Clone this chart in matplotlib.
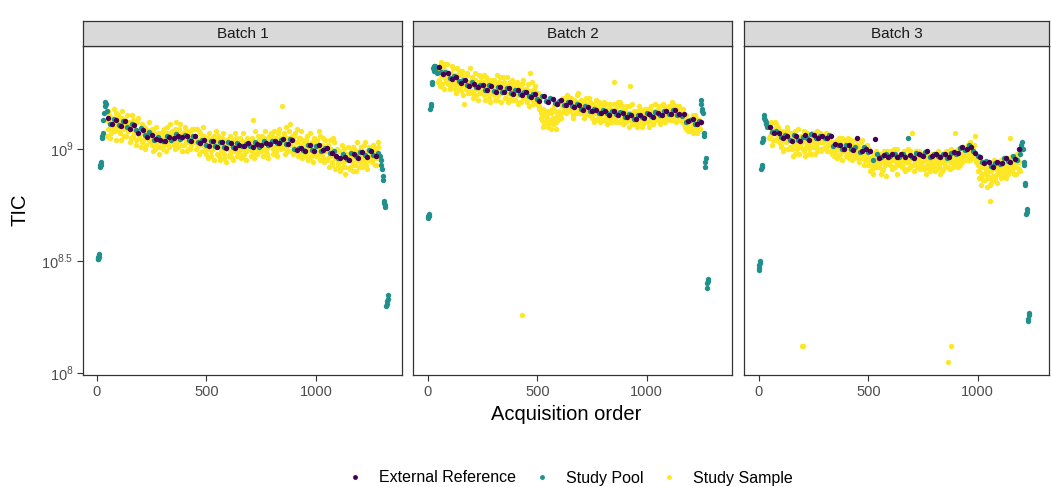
import matplotlib.pyplot as plt
from matplotlib.lines import Line2D
from matplotlib.ticker import NullLocator

plt.rcParams['font.family'] = ['Liberation Sans', 'DejaVu Sans']
plt.rcParams['mathtext.fontset'] = 'custom'
plt.rcParams['mathtext.rm'] = 'Liberation Sans'

groups = ["External Reference", "Study Pool", "Study Sample"]
colors = ["#440154", "#21908C", "#FDE725"]
batches = ["Batch 1", "Batch 2", "Batch 3"]

# all TIC values below are log10(TIC)

# ---------------- Batch 1 ----------------
b1_ref_order = list(range(50, 1271, 20))
b1_ref_log = [
    9.138, 9.112, 9.130, 9.104, 9.124, 9.090, 9.108, 9.072, 9.086, 9.052,
    9.062, 9.045, 9.040, 9.036, 9.052, 9.048, 9.058, 9.055, 9.060, 9.036,
    9.058, 9.028, 9.042, 9.014, 9.036, 9.008, 9.030, 9.004, 9.028, 9.006,
    9.018, 9.015, 9.026, 9.010, 9.022, 9.018, 9.028, 9.022, 9.034, 9.028,
    9.046, 9.024, 9.040, 8.996, 9.004, 8.992, 9.020, 8.990, 9.018, 8.994,
    9.004, 8.982, 8.970, 8.960, 8.966, 8.950, 8.978, 8.960, 8.988, 8.966,
    8.990, 8.968]

b1_pool_order = ([4, 6, 8, 10, 12, 14, 16, 18, 20, 24, 26, 28, 30, 33, 36, 39, 42, 45]
                 + list(range(60, 1281, 20))
                 + [1290, 1293, 1296, 1299, 1302, 1305, 1308, 1310, 1312, 1314,
                    1318, 1320, 1322, 1324, 1326])
b1_pool_log = ([8.51, 8.52, 8.51, 8.53, 8.52, 8.92, 8.93, 8.93, 8.94, 9.05, 9.06, 9.07,
                9.13, 9.16, 9.19, 9.21, 9.20, 9.17]
               + [9.112, 9.132, 9.108, 9.126, 9.100, 9.110, 9.084, 9.096, 9.064, 9.074,
                  9.042, 9.054, 9.034, 9.060, 9.040, 9.068, 9.046, 9.064, 9.040, 9.058,
                  9.032, 9.040, 9.020, 9.038, 9.012, 9.032, 9.010, 9.030, 9.008, 9.028,
                  9.014, 9.024, 9.012, 9.030, 9.010, 9.038, 9.018, 9.036, 9.026, 9.040,
                  9.024, 9.044, 9.002, 9.006, 8.996, 9.016, 8.994, 9.014, 8.992, 9.004,
                  8.984, 8.990, 8.960, 8.976, 8.954, 8.984, 8.970, 8.988, 8.974, 8.994,
                  8.972, 8.984]
               + [8.97, 8.95, 8.93, 8.91, 8.88, 8.86, 8.77, 8.76, 8.74, 8.75,
                  8.30, 8.31, 8.32, 8.33, 8.35])

b1_sample_order = list(range(45, 1286, 5)) + list(range(47, 1283, 5))
b1_sample_log_a = [
    9.13, 9.09, 9.15, 9.11, 9.07, 9.14, 9.10, 9.12, 9.08, 9.16,
    9.10, 9.13, 9.07, 9.11, 9.14, 9.09, 9.06, 9.12, 9.10, 9.15,
    9.08, 9.11, 9.05, 9.10, 9.13, 9.07, 9.09, 9.04, 9.12, 9.08,
    9.06, 9.09, 9.03, 9.07, 9.10, 9.05, 9.02, 9.08, 9.06, 9.04,
    9.05, 9.02, 9.08, 9.04, 9.00, 9.06, 9.03, 9.07, 9.01, 9.05,
    9.04, 9.08, 9.02, 9.06, 9.03, 9.10, 9.05, 9.01, 9.07, 9.04,
    9.06, 9.02, 9.09, 9.05, 9.03, 9.07, 9.04, 9.11, 9.06, 9.02,
    9.05, 9.08, 9.03, 9.06, 9.00, 9.04, 9.07, 9.02, 9.09, 9.05,
    9.03, 9.06, 9.01, 9.04, 9.08, 9.02, 9.05, 8.99, 9.03, 9.06,
    9.02, 8.98, 9.05, 9.01, 9.04, 8.97, 9.03, 9.00, 9.06, 9.02,
    9.01, 9.04, 8.97, 9.02, 8.99, 9.05, 9.00, 8.96, 9.03, 9.01,
    9.00, 9.03, 8.98, 9.02, 8.96, 9.04, 9.01, 8.99, 9.05, 9.00,
    9.02, 8.98, 9.04, 9.00, 8.97, 9.03, 9.01, 8.99, 9.05, 9.02,
    9.01, 9.04, 8.99, 9.13, 9.02, 8.98, 9.03, 9.00, 9.06, 9.01,
    9.03, 8.99, 9.02, 9.05, 9.00, 9.04, 8.98, 9.01, 9.06, 9.02,
    9.02, 9.06, 9.00, 9.04, 8.99, 9.03, 9.07, 9.01, 9.05, 9.02,
    9.19, 9.03, 9.07, 9.00, 9.05, 9.02, 9.08, 9.03, 8.99, 9.06,
    9.04, 9.01, 9.07, 8.99, 9.03, 9.00, 9.05, 8.98, 9.02, 9.04,
    9.01, 8.97, 9.04, 8.99, 9.02, 8.96, 9.00, 9.03, 8.98, 9.05,
    9.00, 9.03, 8.97, 9.01, 9.06, 8.98, 9.02, 8.96, 9.00, 9.04,
    8.99, 8.95, 9.02, 8.97, 9.00, 8.94, 8.98, 9.03, 8.96, 8.99,
    8.96, 8.93, 8.99, 8.91, 8.97, 8.94, 9.00, 8.92, 8.96, 8.98,
    8.95, 8.98, 8.92, 8.96, 9.01, 8.93, 8.97, 8.90, 8.95, 8.99,
    8.98, 8.94, 9.00, 8.96, 9.02, 8.97, 8.93, 8.99, 8.96, 9.01,
    8.97, 9.00, 8.95, 8.98, 8.93, 8.99, 8.96, 9.01, 8.97]
b1_sample_log_b = [
    9.06, 9.17, 9.12, 9.05, 9.14, 9.09, 9.18, 9.11, 9.04, 9.13,
    9.15, 9.08, 9.12, 9.04, 9.17, 9.10, 9.13, 9.06, 9.11, 9.08,
    9.12, 9.03, 9.09, 9.15, 9.06, 9.11, 9.02, 9.08, 9.14, 9.05,
    9.08, 9.01, 9.11, 9.04, 9.07, 9.00, 9.09, 9.05, 9.12, 9.03,
    9.03, 9.09, 8.99, 9.06, 9.02, 9.10, 9.04, 8.98, 9.07, 9.03,
    9.06, 9.00, 9.09, 9.03, 8.99, 9.07, 9.02, 9.11, 9.04, 9.08,
    9.03, 9.08, 9.00, 9.12, 9.04, 9.01, 9.09, 9.05, 8.99, 9.07,
    9.02, 9.10, 9.05, 8.99, 9.08, 9.03, 9.00, 9.06, 9.04, 9.09,
    9.05, 9.00, 9.09, 9.03, 8.98, 9.07, 9.02, 9.10, 9.04, 9.00,
    9.04, 9.00, 8.96, 9.07, 9.02, 8.99, 9.05, 8.95, 9.03, 9.08,
    8.98, 9.06, 9.02, 8.95, 9.03, 9.00, 9.07, 8.98, 8.94, 9.04,
    9.02, 8.97, 9.06, 8.99, 9.03, 8.95, 9.00, 9.07, 8.97, 9.02,
    8.99, 9.05, 8.96, 9.01, 9.07, 8.98, 9.03, 8.95, 9.00, 9.04,
    9.03, 8.97, 9.05, 9.00, 8.96, 9.08, 9.01, 8.98, 9.04, 8.99,
    9.00, 9.06, 8.97, 9.03, 9.08, 8.99, 9.04, 8.96, 9.02, 9.07,
    9.04, 8.98, 9.08, 9.01, 9.05, 8.97, 9.02, 9.09, 9.00, 9.04,
    9.01, 9.06, 8.98, 9.10, 9.03, 8.99, 9.05, 9.11, 9.02, 8.98,
    9.06, 8.99, 9.03, 9.09, 8.97, 9.05, 9.01, 9.08, 8.96, 9.02,
    9.03, 8.98, 9.06, 8.95, 9.01, 9.07, 8.97, 9.02, 8.94, 9.00,
    8.97, 9.04, 8.99, 9.08, 8.95, 9.02, 8.98, 9.05, 8.94, 9.01,
    9.01, 8.96, 8.92, 9.04, 8.98, 8.93, 9.05, 8.97, 8.91, 9.00,
    8.94, 8.99, 8.90, 8.96, 9.02, 8.92, 8.97, 8.89, 8.95, 9.01,
    8.97, 8.91, 8.99, 8.94, 8.90, 9.00, 8.93, 8.96, 9.03, 8.92,
    8.95, 9.01, 8.92, 8.98, 8.94, 9.03, 8.96, 8.91, 8.99, 8.95,
    8.99, 8.94, 9.02, 8.96, 9.00, 8.93, 8.98, 9.03]

# ---------------- Batch 2 ----------------
b2_ref_order = list(range(50, 1251, 20))
b2_ref_log = [
    9.366, 9.334, 9.338, 9.312, 9.322, 9.296, 9.306, 9.280, 9.290, 9.276,
    9.284, 9.262, 9.280, 9.256, 9.276, 9.254, 9.274, 9.246, 9.264, 9.240,
    9.254, 9.232, 9.244, 9.216, 9.236, 9.210, 9.222, 9.200, 9.218, 9.196,
    9.210, 9.188, 9.196, 9.176, 9.186, 9.168, 9.176, 9.160, 9.172, 9.154,
    9.172, 9.152, 9.162, 9.142, 9.152, 9.134, 9.150, 9.140, 9.156, 9.144,
    9.162, 9.150, 9.170, 9.158, 9.174, 9.156, 9.158, 9.124, 9.132, 9.110,
    9.120]

b2_pool_order = ([0, 2, 4, 6, 10, 12, 14, 17, 19, 22, 26, 30, 34, 38, 42]
                 + list(range(60, 1241, 20))
                 + [1248, 1250, 1252, 1254, 1256, 1260, 1262, 1266, 1268, 1270,
                    1276, 1278, 1280, 1282])
b2_pool_log = ([8.69, 8.70, 8.70, 8.71, 9.18, 9.19, 9.20, 9.29, 9.30,
                9.36, 9.37, 9.35, 9.37, 9.36, 9.34]
               + [9.342, 9.346, 9.318, 9.328, 9.302, 9.310, 9.284, 9.298, 9.276, 9.288,
                  9.264, 9.284, 9.260, 9.278, 9.256, 9.274, 9.252, 9.264, 9.244, 9.256,
                  9.236, 9.246, 9.224, 9.236, 9.214, 9.228, 9.206, 9.216, 9.198, 9.208,
                  9.190, 9.200, 9.180, 9.190, 9.170, 9.180, 9.162, 9.176, 9.160, 9.170,
                  9.156, 9.166, 9.144, 9.156, 9.136, 9.154, 9.142, 9.160, 9.148, 9.164,
                  9.152, 9.172, 9.158, 9.176, 9.154, 9.148, 9.120, 9.130, 9.110, 9.124]
               + [9.22, 9.20, 9.18, 9.17, 9.16, 9.06, 9.07, 8.94, 8.92, 8.96,
                  8.38, 8.40, 8.41, 8.42])

b2_sample_order = list(range(45, 1241, 5)) + [431] + list(range(47, 1243, 5))
b2_sample_log_a = [
    9.35, 9.31, 9.37, 9.33, 9.29, 9.36, 9.32, 9.38, 9.30, 9.34,
    9.32, 9.28, 9.34, 9.30, 9.36, 9.31, 9.27, 9.33, 9.29, 9.35,
    9.30, 9.26, 9.33, 9.29, 9.20, 9.31, 9.27, 9.34, 9.28, 9.25,
    9.29, 9.32, 9.25, 9.28, 9.31, 9.24, 9.30, 9.27, 9.33, 9.26,
    9.27, 9.30, 9.24, 9.28, 9.32, 9.25, 9.29, 9.23, 9.27, 9.31,
    9.28, 9.24, 9.30, 9.26, 9.22, 9.29, 9.27, 9.32, 9.25, 9.28,
    9.26, 9.30, 9.23, 9.27, 9.25, 9.29, 9.22, 9.28, 9.31, 9.26,
    9.25, 9.22, 9.28, 9.24, 9.27, 9.21, 9.26, 9.29, 9.23, 9.25,
    9.24, 9.27, 9.21, 9.25, 9.34, 9.23, 9.26, 9.20, 9.24, 9.28,
    9.23, 9.20, 9.25, 9.19, 9.16, 9.13, 9.18, 9.11, 9.15, 9.12,
    9.14, 9.10, 9.17, 9.12, 9.16, 9.11, 9.19, 9.13, 9.09, 9.15,
    9.13, 9.17, 9.21, 9.16, 9.19, 9.22, 9.18, 9.23, 9.20, 9.17,
    9.20, 9.17, 9.22, 9.19, 9.15, 9.21, 9.18, 9.24, 9.20, 9.16,
    9.19, 9.22, 9.16, 9.18, 9.21, 9.15, 9.19, 9.17, 9.23, 9.18,
    9.17, 9.14, 9.20, 9.16, 9.19, 9.13, 9.18, 9.21, 9.15, 9.17,
    9.16, 9.19, 9.13, 9.17, 9.14, 9.20, 9.16, 9.12, 9.18, 9.15,
    9.17, 9.30, 9.14, 9.18, 9.15, 9.21, 9.12, 9.16, 9.19, 9.14,
    9.15, 9.18, 9.12, 9.16, 9.13, 9.19, 9.28, 9.15, 9.11, 9.17,
    9.14, 9.11, 9.17, 9.15, 9.12, 9.18, 9.14, 9.10, 9.16, 9.13,
    9.15, 9.18, 9.12, 9.16, 9.13, 9.19, 9.15, 9.11, 9.17, 9.14,
    9.16, 9.13, 9.19, 9.15, 9.12, 9.17, 9.20, 9.14, 9.16, 9.13,
    9.17, 9.14, 9.19, 9.16, 9.13, 9.20, 9.15, 9.18, 9.12, 9.17,
    9.16, 9.19, 9.13, 9.15, 9.18, 9.11, 9.14, 9.09, 9.13, 9.10,
    9.12, 9.08, 9.14, 9.07, 9.11, 9.15, 9.09, 9.12, 9.10, 9.13,
    8.26]
b2_sample_log_b = [
    9.30, 9.36, 9.28, 9.39, 9.33, 9.27, 9.35, 9.31, 9.38, 9.29,
    9.34, 9.27, 9.31, 9.37, 9.29, 9.33, 9.25, 9.36, 9.30, 9.27,
    9.33, 9.28, 9.35, 9.24, 9.31, 9.27, 9.33, 9.25, 9.30, 9.36,
    9.26, 9.31, 9.23, 9.29, 9.34, 9.27, 9.22, 9.30, 9.25, 9.32,
    9.30, 9.25, 9.33, 9.22, 9.28, 9.26, 9.31, 9.21, 9.29, 9.25,
    9.25, 9.31, 9.22, 9.28, 9.33, 9.24, 9.30, 9.21, 9.27, 9.32,
    9.29, 9.23, 9.27, 9.32, 9.21, 9.26, 9.30, 9.24, 9.22, 9.29,
    9.22, 9.27, 9.30, 9.20, 9.25, 9.29, 9.21, 9.27, 9.31, 9.23,
    9.27, 9.22, 9.29, 9.19, 9.26, 9.23, 9.30, 9.21, 9.27, 9.22,
    9.25, 9.21, 9.18, 9.23, 9.14, 9.17, 9.10, 9.15, 9.12, 9.17,
    9.11, 9.16, 9.13, 9.09, 9.18, 9.14, 9.11, 9.17, 9.12, 9.20,
    9.16, 9.20, 9.14, 9.19, 9.23, 9.17, 9.21, 9.16, 9.24, 9.19,
    9.17, 9.23, 9.18, 9.14, 9.22, 9.19, 9.16, 9.21, 9.25, 9.18,
    9.21, 9.16, 9.20, 9.14, 9.19, 9.23, 9.17, 9.20, 9.15, 9.21,
    9.15, 9.19, 9.12, 9.18, 9.22, 9.16, 9.14, 9.19, 9.12, 9.20,
    9.18, 9.13, 9.21, 9.15, 9.11, 9.18, 9.14, 9.20, 9.16, 9.12,
    9.14, 9.20, 9.16, 9.12, 9.19, 9.15, 9.21, 9.13, 9.17, 9.11,
    9.17, 9.12, 9.19, 9.14, 9.10, 9.16, 9.13, 9.20, 9.15, 9.11,
    9.12, 9.16, 9.10, 9.15, 9.19, 9.12, 9.17, 9.11, 9.14, 9.18,
    9.17, 9.12, 9.15, 9.10, 9.18, 9.14, 9.11, 9.16, 9.20, 9.13,
    9.13, 9.18, 9.15, 9.11, 9.17, 9.14, 9.19, 9.12, 9.15, 9.18,
    9.15, 9.19, 9.13, 9.17, 9.21, 9.14, 9.18, 9.15, 9.19, 9.13,
    9.18, 9.14, 9.17, 9.12, 9.16, 9.13, 9.10, 9.15, 9.08, 9.12,
    9.09, 9.13, 9.10, 9.15, 9.08, 9.12, 9.14, 9.07, 9.11, 9.09]

# ---------------- Batch 3 ----------------
b3_ref_order = list(range(50, 1191, 20))
b3_ref_log = [
    9.100, 9.070, 9.072, 9.050, 9.058, 9.038, 9.060, 9.036, 9.064, 9.042,
    9.062, 9.050, 9.058, 9.048, 9.060, 9.022, 9.018, 8.998, 9.020, 8.996,
    9.048, 8.990, 9.002, 8.992, 9.046, 8.962, 8.974, 8.964, 8.976, 8.966,
    8.978, 8.966, 8.974, 8.960, 8.980, 8.970, 8.990, 8.968, 8.978, 8.966,
    8.976, 8.964, 8.988, 8.982, 9.008, 8.998, 9.008, 8.984, 8.966, 8.938,
    8.940, 8.918, 8.942, 8.938, 8.962, 8.944, 8.956, 8.998]

b3_pool_order = ([0, 1, 2, 3, 4, 10, 12, 14, 16, 18, 20, 22, 25, 28, 31, 34, 37]
                 + list(range(60, 1181, 20))
                 + [1192, 1196, 1200, 1204, 1208, 1211, 1213, 1215, 1217,
                    1222, 1224, 1226, 1229, 1231, 1233, 1235])
b3_pool_log = ([8.46, 8.47, 8.48, 8.49, 8.50, 8.91, 8.92, 8.93, 9.03, 9.04, 9.05,
                9.15, 9.14, 9.13, 9.12, 9.11, 9.10]
               + [9.078, 9.080, 9.054, 9.062, 9.040, 9.064, 9.042, 9.054, 9.050, 9.066,
                  9.048, 9.060, 9.050, 9.062, 9.012, 9.020, 9.000, 9.016, 9.002, 9.010,
                  8.988, 9.008, 8.987, 8.952, 8.976, 8.966, 8.978, 8.968, 8.976, 8.964,
                  8.976, 9.048, 8.964, 8.982, 8.972, 8.986, 8.966, 8.978, 8.968, 8.980,
                  8.962, 8.984, 8.977, 9.003, 8.996, 9.016, 8.990, 8.968, 8.942, 8.948,
                  8.922, 8.936, 8.932, 8.958, 8.948, 8.968, 8.950]
               + [8.98, 9.00, 9.02, 9.03, 9.00, 8.93, 8.94, 8.84, 8.85,
                  8.71, 8.72, 8.73, 8.23, 8.24, 8.26, 8.27])

b3_sample_order = (list(range(45, 1191, 5)) + [195, 200, 878, 865, 1055]
                   + list(range(47, 1193, 5)))
b3_sample_log_a = [
    9.10, 9.06, 9.12, 9.08, 9.04, 9.09, 9.07, 9.11, 9.05, 9.08,
    9.06, 9.02, 9.08, 9.04, 9.00, 9.07, 9.03, 9.10, 9.05, 9.01,
    9.04, 9.00, 9.07, 9.02, 8.98, 9.05, 9.03, 9.09, 9.01, 9.04,
    9.03, 9.06, 8.99, 9.04, 9.01, 9.07, 9.02, 8.98, 9.05, 9.03,
    9.04, 9.01, 9.06, 9.02, 8.99, 9.05, 9.03, 9.07, 9.00, 9.04,
    9.03, 9.06, 9.00, 9.04, 9.02, 9.05, 8.99, 9.03, 9.01, 9.00,
    9.01, 8.98, 9.04, 9.00, 8.97, 9.03, 9.00, 9.05, 8.99, 9.02,
    9.00, 8.97, 9.03, 9.01, 8.98, 9.04, 8.99, 9.02, 8.96, 9.01,
    8.99, 9.02, 8.96, 9.00, 8.97, 9.04, 8.98, 9.01, 8.95, 9.00,
    8.97, 8.93, 9.00, 8.95, 8.91, 8.98, 8.94, 8.97, 8.92, 8.96,
    8.95, 8.92, 8.98, 8.94, 8.90, 8.97, 8.93, 8.96, 8.99, 8.94,
    8.96, 8.93, 8.99, 8.95, 8.92, 8.97, 8.94, 9.00, 8.95, 8.93,
    8.95, 8.98, 8.93, 8.96, 8.91, 8.97, 8.94, 9.00, 8.95, 8.92,
    8.96, 9.07, 8.93, 8.97, 8.94, 8.99, 8.92, 8.96, 8.93, 8.98,
    8.94, 8.97, 8.91, 8.95, 8.99, 8.93, 8.96, 8.90, 8.95, 8.98,
    8.95, 8.92, 8.98, 8.94, 8.91, 8.97, 8.93, 8.96, 8.90, 8.95,
    8.96, 8.93, 8.99, 8.95, 8.92, 8.97, 8.94, 9.00, 8.95, 8.93,
    9.07, 8.97, 8.94, 9.00, 8.96, 8.93, 8.98, 8.95, 9.01, 8.97,
    8.99, 8.96, 9.02, 8.98, 8.95, 9.01, 8.97, 9.00, 8.96, 9.06,
    8.97, 8.93, 8.90, 8.95, 8.88, 8.92, 8.86, 8.94, 8.89, 8.91,
    8.90, 8.87, 8.93, 8.85, 8.91, 8.88, 8.95, 8.86, 8.92, 8.89,
    8.92, 8.89, 8.95, 8.88, 8.93, 8.90, 8.96, 8.87, 8.94, 8.91,
    8.93, 9.05, 8.90, 8.96, 8.92, 8.95, 8.89, 8.94, 8.97, 8.91,
    8.12, 8.12, 8.12, 8.05, 8.77]
b3_sample_log_b = [
    9.05, 9.11, 9.07, 9.02, 9.09, 9.12, 9.04, 9.08, 9.10, 9.03,
    9.08, 9.01, 9.05, 8.99, 9.06, 9.03, 9.09, 9.00, 9.04, 9.07,
    9.01, 9.06, 8.97, 9.03, 9.08, 9.00, 9.05, 8.98, 9.02, 9.06,
    9.05, 9.00, 9.08, 8.97, 9.03, 9.06, 9.00, 9.04, 8.98, 9.07,
    9.01, 9.06, 8.98, 9.03, 9.08, 9.00, 9.05, 8.99, 9.03, 9.06,
    9.05, 9.01, 9.07, 8.99, 9.04, 9.06, 9.02, 8.98, 9.03, 8.97,
    8.99, 9.03, 8.96, 9.01, 9.05, 8.98, 9.02, 8.95, 9.00, 9.04,
    9.02, 8.98, 9.05, 8.96, 9.00, 9.03, 8.95, 9.01, 8.98, 9.04,
    8.97, 9.01, 8.94, 8.99, 9.03, 8.96, 9.00, 8.93, 8.98, 9.02,
    8.95, 8.99, 8.90, 8.96, 8.93, 8.89, 8.97, 8.92, 8.99, 8.94,
    8.93, 8.97, 8.89, 8.96, 8.91, 8.99, 8.94, 8.88, 8.95, 8.97,
    8.94, 8.98, 8.91, 8.96, 9.00, 8.92, 8.95, 8.89, 8.97, 8.94,
    8.97, 8.92, 8.95, 8.99, 8.90, 8.94, 8.97, 8.91, 8.96, 8.99,
    8.93, 8.96, 8.90, 8.95, 8.98, 8.92, 8.95, 8.99, 8.91, 8.94,
    8.97, 8.92, 8.96, 8.89, 8.93, 8.97, 8.91, 8.94, 8.92, 8.96,
    8.93, 8.97, 8.90, 8.95, 8.99, 8.92, 8.89, 8.94, 8.97, 8.91,
    8.94, 8.98, 8.92, 8.96, 8.99, 8.91, 8.95, 8.97, 8.92, 8.96,
    8.95, 8.99, 8.96, 8.92, 8.98, 9.01, 8.94, 8.97, 8.99, 8.95,
    8.97, 9.01, 8.95, 9.00, 9.03, 8.97, 8.99, 9.02, 8.98, 8.94,
    8.95, 8.90, 8.87, 8.92, 8.84, 8.89, 8.93, 8.86, 8.90, 8.83,
    8.88, 8.92, 8.84, 8.90, 8.86, 8.93, 8.87, 8.91, 8.85, 8.94,
    8.90, 8.94, 8.87, 8.91, 8.95, 8.88, 8.92, 8.96, 8.89, 8.93,
    8.95, 8.91, 8.97, 8.93, 8.89, 8.96, 8.92, 8.98, 8.94, 8.90]

panels = [
    (b1_ref_order, b1_ref_log, b1_pool_order, b1_pool_log,
     b1_sample_order, b1_sample_log_a + b1_sample_log_b),
    (b2_ref_order, b2_ref_log, b2_pool_order, b2_pool_log,
     b2_sample_order, b2_sample_log_a + b2_sample_log_b),
    (b3_ref_order, b3_ref_log, b3_pool_order, b3_pool_log,
     b3_sample_order, b3_sample_log_a + b3_sample_log_b),
]

W, H = 1052, 487
fig = plt.figure(figsize=(W / 100, H / 100), dpi=100)

# panel edges in pixels
left_px = [83, 413, 744]
right_px = [402, 732, 1049]
xlims = [(-62, 1390), (-68, 1390), (-68, 1326)]
top_px, bot_px, strip_top_px = 46, 375, 21

for i, (ro, rl, po, pl, so, sl) in enumerate(panels):
    l = left_px[i] / W
    w = (right_px[i] - left_px[i]) / W
    b = 1 - bot_px / H
    h = (bot_px - top_px) / H
    ax = fig.add_axes([l, b, w, h])
    ax.scatter(so, [10 ** v for v in sl], s=15, color=colors[2], linewidths=0, zorder=2)
    ax.scatter(po, [10 ** v for v in pl], s=15, color=colors[1], linewidths=0, zorder=3)
    ax.scatter(ro, [10 ** v for v in rl], s=15, color=colors[0], linewidths=0, zorder=4)
    ax.set_yscale('log')
    ax.set_ylim(10 ** 7.991, 10 ** 9.46)
    ax.set_xlim(*xlims[i])
    ax.yaxis.set_minor_locator(NullLocator())
    ax.set_xticks([0, 500, 1000])
    ax.set_xticklabels(["0", "500", "1000"])
    ax.set_yticks([1e8, 10 ** 8.5, 1e9])
    if i == 0:
        ax.set_yticklabels(["$10^{8}$", "$10^{8.5}$", "$10^{9}$"])
    else:
        ax.tick_params(axis='y', left=False, labelleft=False)
    ax.tick_params(labelsize=10.5, colors='#4D4D4D', length=4, width=0.8, pad=3)
    ax.tick_params(color='#333333')
    for sp in ax.spines.values():
        sp.set_color('#333333')
        sp.set_linewidth(0.9)

    # facet strip
    sax = fig.add_axes([l, 1 - top_px / H, w, (top_px - strip_top_px) / H])
    sax.set_facecolor('#D9D9D9')
    sax.set_xticks([])
    sax.set_yticks([])
    for sp in sax.spines.values():
        sp.set_color('#333333')
        sp.set_linewidth(0.9)
    sax.text(0.5, 0.5, batches[i], ha='center', va='center', fontsize=11, color='#1A1A1A',
             transform=sax.transAxes)

fig.text(20 / W, 1 - 210 / H, "TIC", rotation=90, ha='center', va='center', fontsize=14.5)
fig.text(566 / W, 1 - 415 / H, "Acquisition order", ha='center', va='center', fontsize=14.5)

handles = [Line2D([], [], marker='o', ls='', color=c, markersize=3.5, markeredgewidth=0)
           for c in colors]
fig.legend(handles, groups, loc='center', bbox_to_anchor=(570 / W, 1 - 478 / H), ncol=3,
           frameon=False, fontsize=11.5, handlelength=1.0, handletextpad=1.0,
           columnspacing=1.1, borderpad=0)

fig.savefig("out.png", dpi=100)
